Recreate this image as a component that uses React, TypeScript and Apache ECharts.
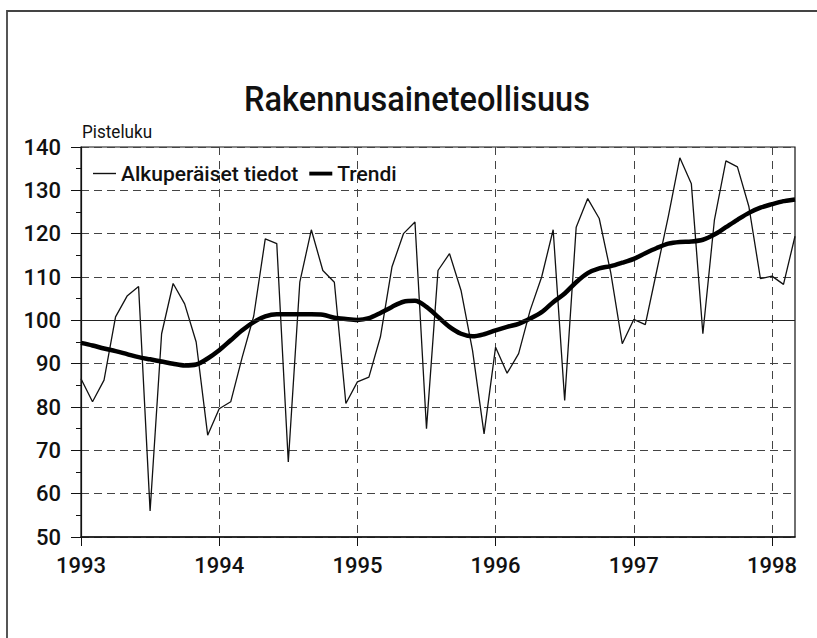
import React, { useEffect, useRef } from "react";
import * as echarts from "echarts";

const FONT = "Roboto, 'Liberation Sans', sans-serif";

const titleText = "Rakennusaineteollisuus";
const yAxisName = "Pisteluku";
const seriesNames = ["Alkuperäiset tiedot", "Trendi"];

const startYear = 1993;
const monthCount = 63; // Jan 1993 .. Mar 1998
const months: string[] = [];
for (let i = 0; i < monthCount; i++) {
  const y = startYear + Math.floor(i / 12);
  const m = (i % 12) + 1;
  months.push(`${y}-${m < 10 ? "0" + m : m}`);
}

const rawValues = [
  86.5, 81.2, 86.2, 100.8, 105.6, 107.8, 56.0, 96.9, 108.5, 103.8, 95.0, 73.5,
  79.6, 81.2, 91.5, 101.0, 118.8, 117.7, 67.3, 108.8, 120.9, 111.5, 108.8, 80.8,
  85.8, 86.9, 96.2, 112.3, 120.0, 122.7, 75.0, 111.5, 115.4, 106.9, 93.0, 73.8,
  93.8, 87.8, 92.3, 102.3, 110.0, 120.9, 81.5, 121.5, 128.1, 123.5, 111.0, 94.6,
  100.2, 99.0, 111.5, 124.0, 137.5, 131.5, 96.9, 123.1, 136.8, 135.4, 126.2, 109.6,
  110.2, 108.3, 119.4,
];

const trendValues = [
  94.8, 94.2, 93.5, 92.9, 92.2, 91.5, 91.0, 90.5, 90.0, 89.6, 89.8, 91.2,
  93.1, 95.4, 97.7, 99.6, 100.9, 101.4, 101.4, 101.4, 101.4, 101.3, 100.6, 100.3,
  100.1, 100.5, 101.7, 103.1, 104.3, 104.5, 103.1, 100.8, 98.5, 96.9, 96.3, 96.8,
  97.7, 98.5, 99.2, 100.4, 101.9, 104.2, 106.2, 108.8, 110.9, 112.0, 112.5, 113.3,
  114.2, 115.5, 116.7, 117.7, 118.1, 118.2, 118.6, 119.8, 121.5, 123.2, 124.8, 126.0,
  126.8, 127.5, 127.9,
];

const thinIcon = "path://M0,0M23,14M0,6.3h23v1.4h-23z";
const thickIcon = "path://M0,0M25,14M0,5h25v4.2h-25z";

export default function App() {
  const ref = useRef<HTMLDivElement>(null);
  useEffect(() => {
    if (!ref.current) return;
    const chart = echarts.init(ref.current, undefined, { renderer: "svg" });
    chart.setOption({
      animation: false,
      backgroundColor: "#ffffff",
      textStyle: { fontFamily: FONT, color: "#111" },
      grid: {
        left: 81,
        top: 147,
        right: 22,
        bottom: 101,
        show: true,
        borderColor: "#111",
        borderWidth: 1.2,
        backgroundColor: "transparent",
      },
      graphic: [
        {
          type: "rect",
          shape: { x: 7, y: 11, width: 900, height: 700 },
          style: { fill: "none", stroke: "#444", lineWidth: 1.8 },
          silent: true,
        },
        {
          type: "text",
          x: 417,
          y: 99,
          scaleX: 0.93,
          style: {
            text: titleText,
            fontFamily: FONT,
            fontSize: 35,
            fontWeight: 500,
            fill: "#111",
            textAlign: "center",
            textVerticalAlign: "middle",
          },
        },
        {
          type: "text",
          x: 82,
          y: 132,
          scaleX: 0.95,
          style: {
            text: yAxisName,
            fontFamily: FONT,
            fontSize: 18,
            fill: "#111",
            textAlign: "left",
            textVerticalAlign: "middle",
          },
        },
      ],
      legend: {
        left: 88,
        top: 158,
        itemWidth: 23,
        itemHeight: 14,
        itemGap: 11,
        itemStyle: { borderWidth: 0 },
        textStyle: { fontFamily: FONT, fontSize: 21, fontWeight: 500, color: "#111" },
        data: [
          { name: seriesNames[0], icon: thinIcon },
          { name: seriesNames[1], icon: thickIcon },
        ],
      },
      xAxis: {
        type: "category",
        data: months,
        boundaryGap: false,
        axisLine: { show: true, lineStyle: { color: "#111", width: 1.5 } },
        axisTick: { show: true, interval: 11, length: 9, lineStyle: { color: "#111" } },
        axisLabel: {
          interval: 11,
          margin: 17,
          fontFamily: FONT,
          fontSize: 22,
          fontWeight: 500,
          color: "#111",
          formatter: (v: string) => v.slice(0, 4),
        },
        splitLine: {
          show: true,
          interval: 11,
          lineStyle: { type: [8, 6], color: "#444", width: 1 },
        },
      },
      yAxis: {
        type: "value",
        min: 50,
        max: 140,
        interval: 10,
        axisLine: { show: true, lineStyle: { color: "#111", width: 1.2 } },
        axisTick: { show: true, length: 10, lineStyle: { color: "#111" } },
        minorTick: { show: true, splitNumber: 2, length: 5, lineStyle: { color: "#111" } },
        axisLabel: { margin: 20, fontFamily: FONT, fontSize: 22, fontWeight: 500, color: "#111" },
        splitLine: { show: true, lineStyle: { type: [8, 5], color: "#444", width: 1 } },
      },
      series: [
        {
          name: seriesNames[0],
          type: "line",
          data: rawValues,
          symbol: "none",
          lineStyle: { color: "#111", width: 1.3 },
          itemStyle: { color: "#111" },
          markLine: {
            silent: true,
            symbol: "none",
            label: { show: false },
            lineStyle: { type: "solid", color: "#222", width: 1 },
            data: [{ yAxis: 100 }],
          },
          z: 3,
        },
        {
          name: seriesNames[1],
          type: "line",
          data: trendValues,
          symbol: "none",
          smooth: 0.3,
          lineStyle: { color: "#000", width: 4.5 },
          itemStyle: { color: "#000" },
          z: 4,
        },
      ],
    });
    return () => chart.dispose();
  }, []);
  return (
    <div
      ref={ref}
      style={{ position: "absolute", left: 0, top: 0, width: 817, height: 638 }}
    />
  );
}
